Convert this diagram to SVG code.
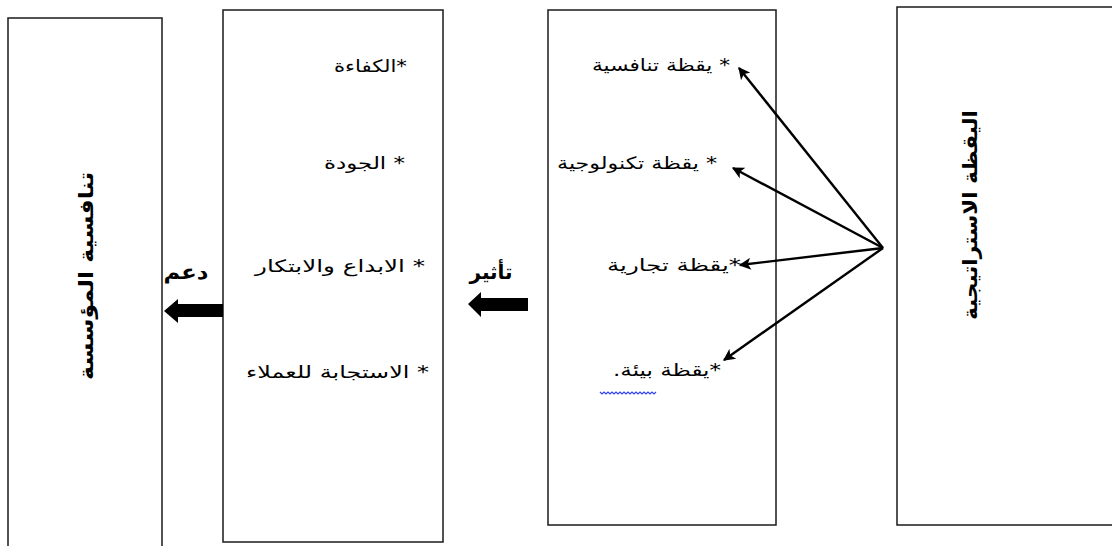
<svg xmlns="http://www.w3.org/2000/svg" width="1112" height="546" viewBox="0 0 1112 546">
  <style>
    .box { fill: #ffffff; stroke: #1a1a1a; stroke-width: 1.5; }
    .item { font-family: "DejaVu Sans", "Liberation Sans", sans-serif; font-size: 17px; fill: #000; direction: rtl; text-anchor: start; dominant-baseline: central; }
    .title { font-family: "DejaVu Sans", "Liberation Sans", sans-serif; font-size: 20px; font-weight: bold; fill: #000; text-anchor: middle; dominant-baseline: central; direction: rtl; }
    .label { font-family: "DejaVu Sans", "Liberation Sans", sans-serif; font-size: 20px; font-weight: bold; fill: #000; text-anchor: middle; dominant-baseline: central; direction: rtl; }
    .thin { stroke: #000; stroke-width: 2.4; fill: none; marker-end: url(#head); }
    .fat { fill: #000; stroke: none; }
  </style>
  <defs>
    <marker id="head" viewBox="0 0 10 10" refX="9" refY="5" markerWidth="5.5" markerHeight="5" orient="auto" markerUnits="strokeWidth">
      <path d="M0,0 L10,5 L0,10 L2.5,5 Z" fill="#000"/>
    </marker>
  </defs>

  <rect width="1112" height="546" fill="#ffffff"/>

  <!-- organisation competitiveness -->
  <g id="node-competitiveness">
    <rect class="box" x="8" y="18" width="154" height="540"/>
    <text class="title" transform="translate(86,276) rotate(-90)" textLength="208" lengthAdjust="spacingAndGlyphs">تنافسية المؤسسة</text>
  </g>

  <!-- competitive factors -->
  <g id="node-factors">
    <rect class="box" x="223" y="10" width="220" height="532"/>
    <text class="item" x="407" y="66" textLength="73" lengthAdjust="spacingAndGlyphs">*الكفاءة</text>
    <text class="item" x="405" y="163" textLength="81" lengthAdjust="spacingAndGlyphs">* الجودة</text>
    <text class="item" x="425" y="266" textLength="170" lengthAdjust="spacingAndGlyphs">* الابداع والابتكار</text>
    <text class="item" x="429" y="372" textLength="183" lengthAdjust="spacingAndGlyphs">* الاستجابة للعملاء</text>
  </g>

  <!-- vigilance types -->
  <g id="node-vigilance-types">
    <rect class="box" x="548" y="10" width="228" height="515"/>
    <text class="item" x="730" y="65" textLength="138" lengthAdjust="spacingAndGlyphs">* يقظة تنافسية</text>
    <text class="item" x="717" y="163" textLength="160" lengthAdjust="spacingAndGlyphs">* يقظة تكنولوجية</text>
    <text class="item" x="741" y="265" textLength="134" lengthAdjust="spacingAndGlyphs">*يقظة تجارية</text>
    <text class="item" x="721" y="370" textLength="108" lengthAdjust="spacingAndGlyphs">*يقظة بيئة.</text>
    <path d="M600,392 l2,2 l2,-2 l2,2 l2,-2 l2,2 l2,-2 l2,2 l2,-2 l2,2 l2,-2 l2,2 l2,-2 l2,2 l2,-2 l2,2 l2,-2 l2,2 l2,-2 l2,2 l2,-2 l2,2 l2,-2 l2,2 l2,-2 l2,2 l2,-2 l2,2 l2,-2" fill="none" stroke="#3344ff" stroke-width="1.2"/>
  </g>

  <!-- strategic vigilance -->
  <g id="node-strategic-vigilance">
    <rect class="box" x="897" y="7" width="230" height="518"/>
    <text class="title" transform="translate(970,215) rotate(-90)" textLength="210" lengthAdjust="spacingAndGlyphs">اليقظة الاستراتيجية</text>
  </g>

  <!-- connectors -->
  <g id="connectors">
    <line class="thin" x1="883" y1="248" x2="739" y2="68"/>
    <line class="thin" x1="883" y1="248" x2="733" y2="168"/>
    <line class="thin" x1="883" y1="248" x2="740" y2="265"/>
    <line class="thin" x1="883" y1="248" x2="724" y2="360"/>

    <polygon class="fat" points="164,311 178,299 178,304 223,304 223,317 178,317 178,323"/>
    <text class="label" x="186" y="272" textLength="45" lengthAdjust="spacingAndGlyphs">دعم</text>

    <polygon class="fat" points="468,304 481,292 481,298 528,298 528,311 481,311 481,317"/>
    <text class="label" x="491" y="272" textLength="43" lengthAdjust="spacingAndGlyphs">تأثير</text>
  </g>
</svg>
